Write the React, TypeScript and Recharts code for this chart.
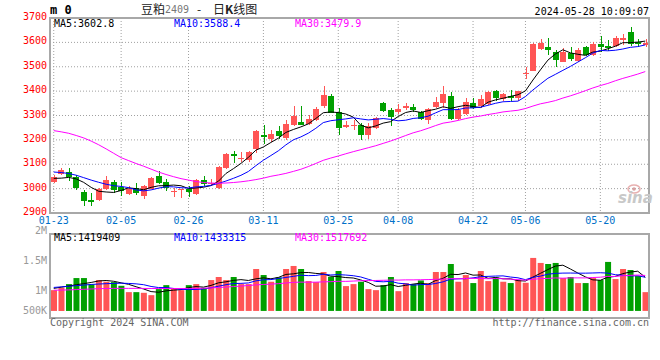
import React from 'react';
import { ComposedChart, Bar, Line, XAxis, YAxis, CartesianGrid, Cell } from 'recharts';

// 豆粕2409 daily K, 2024-01-23 .. 2024-05-28 (80 trading days)
const dates = [
  '01-23','01-24','01-25','01-26','01-29','01-30','01-31','02-01','02-02','02-05',
  '02-06','02-07','02-08','02-19','02-20','02-21','02-22','02-23','02-26','02-27',
  '02-28','02-29','03-01','03-04','03-05','03-06','03-07','03-08','03-11','03-12',
  '03-13','03-14','03-15','03-18','03-19','03-20','03-21','03-22','03-25','03-26',
  '03-27','03-28','03-29','04-01','04-02','04-03','04-08','04-09','04-10','04-11',
  '04-12','04-15','04-16','04-17','04-18','04-19','04-22','04-23','04-24','04-25',
  '04-26','04-29','04-30','05-06','05-07','05-08','05-09','05-10','05-13','05-14',
  '05-15','05-16','05-17','05-20','05-21','05-22','05-23','05-24','05-27','05-28',
];
const tickDates = ['01-23','02-05','02-26','03-11','03-25','04-08','04-22','05-06','05-20'];

const opens = [
  3027,3058,3069,3049,2986,2952,2952,2997,3029,3007, 2977,3004,2970,3000,3052,3027,2990,2994,3000,2977,
  3034,3022,3001,3083,3143,3125,3117,3163,3218,3203, 3238,3206,3262,3272,3266,3280,3337,3378,3316,3251,
  3255,3262,3221,3248,3351,3323,3313,3330,3333,3314, 3283,3333,3351,3382,3287,3306,3352,3339,3348,3400,
  3366,3379,3370,3472,3484,3574,3579,3562,3521,3555, 3523,3582,3548,3593,3586,3586,3609,3643,3602,3588,
];
const highs = [
  3055,3083,3086,3054,2995,2981,3004,3052,3034,3027, 3011,3022,3014,3049,3072,3038,3004,3000,3011,3038,
  3052,3038,3092,3147,3154,3151,3154,3239,3262,3242, 3258,3280,3337,3337,3303,3333,3419,3387,3330,3276,
  3283,3269,3269,3292,3357,3330,3347,3351,3347,3320, 3330,3374,3423,3398,3330,3371,3370,3386,3399,3406,
  3393,3406,3402,3497,3597,3615,3617,3567,3578,3582, 3575,3586,3600,3627,3609,3627,3636,3663,3613,3613,
];
const lows = [
  3022,3054,3031,2995,2927,2927,2950,2995,2981,2970, 2973,2973,2956,2997,3018,2990,2967,2960,2967,2973,
  3011,3011,2997,3079,3106,3109,3109,3147,3184,3190, 3202,3201,3255,3260,3262,3276,3330,3310,3222,3249,
  3242,3201,3205,3246,3314,3255,3306,3323,3314,3283, 3265,3330,3330,3283,3283,3303,3325,3332,3345,3359,
  3359,3361,3361,3451,3481,3570,3549,3501,3518,3523, 3521,3545,3545,3561,3564,3582,3589,3586,3582,3582,
];
const closes = [
  3049,3076,3049,3004,2950,2946,2997,3034,2995,2990, 3000,2981,3011,3044,3022,3004,2992,2997,2986,3034,
  3020,3025,3088,3144,3133,3127,3150,3235,3210,3225, 3215,3267,3296,3263,3287,3326,3385,3312,3249,3259,
  3262,3221,3255,3289,3317,3292,3326,3337,3321,3287, 3327,3357,3387,3287,3323,3355,3332,3366,3397,3370,
  3389,3370,3400,3476,3593,3597,3570,3526,3562,3530, 3568,3548,3593,3582,3578,3620,3620,3595,3593,3598,
];
const ma5 = [
  3042,3043,3046,3040,3025.6,3005.0,2989.2,2986.2,2984.4,2992.4, 3003.2,3000.0,2995.4,3005.2,3011.6,3012.4,3014.6,3011.8,3000.2,3002.6,
  3005.8,3012.4,3030.6,3062.2,3082.0,3103.4,3128.4,3157.8,3171.0,3189.4, 3207.0,3230.4,3242.6,3253.2,3265.6,3287.8,3311.4,3314.6,3311.8,3306.2,
  3293.4,3260.6,3249.2,3257.2,3268.8,3274.8,3295.8,3312.2,3318.6,3312.6, 3319.6,3325.8,3335.8,3329.0,3336.2,3341.8,3336.8,3332.6,3354.6,3364.0,
  3370.8,3378.4,3385.2,3401.0,3445.6,3487.2,3527.2,3552.4,3569.6,3557.0, 3551.2,3546.8,3560.2,3564.2,3573.8,3584.2,3598.6,3599.0,3601.2,3605.2,
];
const ma10 = [
  3068,3066,3062,3055,3045,3035,3026,3018,3012,3009.0, 3004.1,2994.6,2990.8,2994.8,3002.0,3007.8,3007.3,3003.6,3002.7,3007.1,
  3009.1,3013.5,3021.2,3031.2,3042.3,3054.6,3070.4,3094.2,3116.6,3135.7, 3155.2,3179.4,3200.2,3212.1,3227.5,3247.4,3270.9,3278.6,3282.5,3285.9,
  3290.6,3286.0,3281.9,3284.5,3287.5,3284.1,3278.2,3280.7,3287.9,3290.7, 3297.2,3310.8,3324.0,3323.8,3324.4,3330.7,3331.3,3334.2,3341.8,3350.1,
  3356.3,3357.6,3358.9,3377.8,3404.8,3429.0,3452.8,3468.8,3485.3,3501.3, 3519.2,3537.0,3556.3,3566.9,3565.4,3567.7,3572.7,3579.6,3582.7,3589.5,
];
const ma30 = [
  3238,3233,3227,3218,3208,3195,3180,3163,3145,3127, 3115,3103,3092,3080,3068,3058,3049,3041,3035,3029,
  3025,3023,3022,3023,3025,3028,3032,3037,3043,3050.6, 3056.1,3062.5,3070.7,3079.3,3090.6,3103.2,3116.2,3125.4,3133.9,3142.9,
  3151.6,3159.6,3167.7,3175.9,3185.7,3195.3,3206.4,3217.8,3228.9,3237.4, 3247.6,3258.7,3268.6,3273.4,3279.7,3287.3,3293.4,3297.8,3304.0,3308.8,
  3314.6,3318.1,3321.5,3328.6,3338.8,3347.9,3354.0,3361.2,3371.6,3380.6, 3390.8,3401.7,3413.0,3422.8,3431.5,3442.4,3452.2,3460.8,3469.9,3480.2,
];

// volume, thousands of lots
const volumes = [
  1011,1050,1111,1211,1211,1106,1178,1150,1144,1083, 978,978,967,928,1028,1094,1039,1011,1094,1111,
  1050,1178,1228,1178,1228,1111,1111,1361,1261,1150, 1222,1361,1411,1361,1161,1144,1311,1233,1328,1078,
  1111,1150,1028,1011,1094,1228,994,1128,1111,1172, 1128,1311,1311,1444,1150,1261,1128,1328,1161,1222,
  1150,1128,1178,1133,1544,1461,1444,1461,1211,1228, 1128,1128,1211,1178,1478,1194,1361,1344,1244,978,
];
const vma5 = [
  1040,1060,1080,1100,1119,1138,1163,1171,1158,1132, 1107,1067,1030,987,976,999,1011,1020,1053,1070,
  1061,1089,1132,1149,1172,1185,1171,1198,1214,1199, 1221,1271,1281,1301,1303,1288,1278,1242,1235,1219,
  1212,1180,1139,1076,1079,1102,1071,1091,1111,1127, 1107,1170,1207,1273,1269,1295,1259,1262,1206,1220,
  1198,1198,1168,1162,1227,1289,1352,1409,1424,1361, 1294,1231,1181,1175,1225,1238,1284,1311,1324,1224,
];
const vma10 = [
  1056,1065,1075,1085,1095,1105,1112,1118,1122,1126, 1122,1115,1101,1072,1054,1053,1039,1025,1020,1023,
  1030,1050,1076,1101,1121,1123,1130,1165,1182,1186, 1203,1221,1239,1258,1251,1254,1274,1262,1268,1261,
  1250,1229,1191,1156,1149,1157,1126,1115,1093,1103, 1104,1121,1149,1192,1198,1201,1214,1234,1239,1244,
  1247,1228,1215,1184,1223,1243,1275,1288,1293,1294, 1292,1292,1295,1299,1293,1266,1258,1246,1249,1224,
];
const vma30 = [
  1010,1012,1015,1020,1025,1030,1035,1038,1040,1040, 1040,1040,1039,1038,1038,1038,1038,1038,1039,1040,
  1042,1048,1055,1062,1070,1078,1088,1098,1105,1111, 1118,1129,1139,1144,1142,1143,1148,1151,1157,1156,
  1161,1167,1169,1171,1174,1178,1177,1181,1181,1183, 1186,1190,1193,1202,1199,1204,1205,1204,1200,1203,
  1200,1193,1185,1177,1190,1201,1205,1213,1209,1214, 1214,1213,1220,1225,1238,1237,1249,1256,1261,1254,
];

const priceTicks = [2900, 3000, 3100, 3200, 3300, 3400, 3500, 3600, 3700];
const volLabels = ['2M', '1.5M', '1M', '500K'];
const priceMaText = ['MA5:3602.8', 'MA10:3588.4', 'MA30:3479.9'];
const volMaText = ['MA5:1419409', 'MA10:1433315', 'MA30:1517692'];

const VOL_DOMAIN: [number, number] = [550, 1940];
const VOL_FLOOR = 667;
const volGrid = [1, 2, 3].map(k => VOL_DOMAIN[0] + (VOL_DOMAIN[1] - VOL_DOMAIN[0]) * k / 4);

const UP = '#ff5555';
const DOWN = '#00a000';
const MA_COLORS = ['#000000', '#0000ff', '#ff00ff'];
const GRID = '#a0a0a0';
const MONO = '"DejaVu Sans Mono", "Liberation Mono", monospace';

const rows = dates.map((date, i) => ({
  date, open: opens[i], high: highs[i], low: lows[i], close: closes[i],
  ma5: ma5[i], ma10: ma10[i], ma30: ma30[i],
  vol: volumes[i], vma5: vma5[i], vma10: vma10[i], vma30: vma30[i],
}));

const Candle = (props: any) => {
  const { x, y, width, height, payload } = props;
  if (!payload) return null;
  const { open, close, high, low } = payload;
  const k = height / (high - low || 1);
  const yO = y + (high - open) * k;
  const yC = y + (high - close) * k;
  const color = close >= open ? UP : DOWN;
  const top = Math.min(yO, yC);
  const h = Math.max(1, Math.abs(yO - yC));
  const cx = Math.round(x + width / 2);
  return (
    <g shapeRendering="crispEdges">
      <rect x={cx - 0.5} y={y} width={1} height={height} fill={color} />
      <rect x={x} y={top} width={width} height={h} fill={color} />
    </g>
  );
};

// price labels sit a touch above their grid line, like the original
const PriceTick = (props: any) => {
  const { x, y, payload } = props;
  return (
    <text x={x} y={y + 2} textAnchor="end" fill="#ff0000" fontSize={10} fontFamily={MONO}>
      {payload.value}
    </text>
  );
};

const abs = (extra: React.CSSProperties): React.CSSProperties => ({ position: 'absolute', whiteSpace: 'pre', lineHeight: '12px', ...extra });

export default function App() {
  return (
    <div style={{ position: 'relative', width: 660, height: 360, background: '#fff', fontFamily: MONO, fontSize: 10, overflow: 'hidden' }}>
      <style>{'body{margin:0}'}</style>

      <div style={{ position: 'absolute', left: 0, top: 0 }}>
        <ComposedChart width={660} height={230} data={rows} margin={{ top: 18, right: 11, left: 0, bottom: 0 }}>
          <CartesianGrid stroke={GRID} strokeDasharray="1 2" />
          <XAxis dataKey="date" ticks={tickDates} interval={0} height={17} axisLine={false} tickLine={false}
            tickSize={0} tickMargin={4} tick={{ fill: '#0070c8', fontSize: 10, fontFamily: MONO }} />
          <YAxis domain={[2900, 3700]} ticks={priceTicks} interval={0} width={50} allowDataOverflow
            axisLine={false} tickLine={false} tickSize={0} tickMargin={3} tick={<PriceTick />} />
          <Bar dataKey={(d: any) => [d.low, d.high]} barSize={6} shape={<Candle />} isAnimationActive={false} />
          <Line dataKey="ma5" stroke={MA_COLORS[0]} strokeWidth={1} dot={false} isAnimationActive={false} />
          <Line dataKey="ma10" stroke={MA_COLORS[1]} strokeWidth={1} dot={false} isAnimationActive={false} />
          <Line dataKey="ma30" stroke={MA_COLORS[2]} strokeWidth={1} dot={false} isAnimationActive={false} />
        </ComposedChart>
      </div>

      <div style={{ position: 'absolute', left: 0, top: 230 }}>
        <ComposedChart width={660} height={90} data={rows} margin={{ top: 4, right: 11, left: 0, bottom: 0 }}>
          <CartesianGrid stroke={GRID} strokeDasharray="1 2" />
          <XAxis dataKey="date" ticks={tickDates} interval={0} height={2} tick={false} axisLine={false} tickLine={false} />
          <YAxis domain={VOL_DOMAIN} ticks={volGrid} width={50} allowDataOverflow tick={false} axisLine={false} tickLine={false} />
          <Bar dataKey={(d: any) => [VOL_FLOOR, d.vol]} barSize={6} isAnimationActive={false}>
            {rows.map((r, i) => <Cell key={i} fill={r.close >= r.open ? UP : DOWN} />)}
          </Bar>
          <Line dataKey="vma5" stroke={MA_COLORS[0]} strokeWidth={1} dot={false} isAnimationActive={false} />
          <Line dataKey="vma10" stroke={MA_COLORS[1]} strokeWidth={1} dot={false} isAnimationActive={false} />
          <Line dataKey="vma30" stroke={MA_COLORS[2]} strokeWidth={1} dot={false} isAnimationActive={false} />
        </ComposedChart>
      </div>

      {/* panel frames */}
      <div style={{ position: 'absolute', left: 49, top: 17, width: 601, height: 197, border: '2px solid #a8a8a8', boxSizing: 'border-box' }} />
      <div style={{ position: 'absolute', left: 49, top: 233, width: 601, height: 86, border: '2px solid #a8a8a8', boxSizing: 'border-box' }} />

      {/* header */}
      <div style={abs({ left: 50, top: 4, fontSize: 12, fontWeight: 'bold', color: '#000' })}>m 0</div>
      <div style={abs({ left: 141, top: 3, fontSize: 12, fontFamily: '"Noto Sans CJK SC", sans-serif', color: '#222' })}>豆粕</div>
      <div style={abs({ left: 165, top: 4, fontSize: 10, color: '#777' })}>2409</div>
      <div style={abs({ left: 197, top: 3, fontSize: 12, fontFamily: '"Noto Sans CJK SC", sans-serif', color: '#222' })}>-</div>
      <div style={abs({ left: 213, top: 3, fontSize: 12, fontFamily: '"Noto Sans CJK SC", sans-serif', color: '#222' })}>
        日<b>K</b>线图
      </div>
      <div style={abs({ right: 11, top: 6, color: '#000' })}>2024-05-28 10:09:07</div>

      {/* MA legends */}
      {priceMaText.map((t, i) => (
        <div key={t} style={abs({ left: [54, 174, 295][i], top: 18, color: MA_COLORS[i] })}>{t}</div>
      ))}
      {volMaText.map((t, i) => (
        <div key={t} style={abs({ left: [54, 174, 295][i], top: 232, color: MA_COLORS[i] })}>{t}</div>
      ))}

      {/* volume axis labels */}
      {volLabels.map((t, i) => (
        <div key={t} style={abs({ right: 613, top: [225, 255, 285, 305][i], color: '#999', textAlign: 'right' })}>{t}</div>
      ))}

      {/* footer */}
      <div style={abs({ left: 50, top: 317, color: '#666' })}>Copyright 2024 SINA.COM</div>
      <div style={abs({ right: 11, top: 317, color: '#666' })}>http://finance.sina.com.cn</div>

      {/* watermark */}
      <svg style={{ position: 'absolute', left: 626, top: 184 }} width={16} height={10}>
        <ellipse cx={8} cy={5} rx={6} ry={4} fill="none" stroke="#e8b0b0" strokeWidth={1.5} />
        <circle cx={8} cy={5} r={1.8} fill="#d8a0a0" />
      </svg>
      <div style={abs({ left: 618, top: 192, fontSize: 15, fontWeight: 'bold', fontStyle: 'italic', color: '#c8c8c8', fontFamily: '"DejaVu Sans", sans-serif' })}>sina</div>
    </div>
  );
}
